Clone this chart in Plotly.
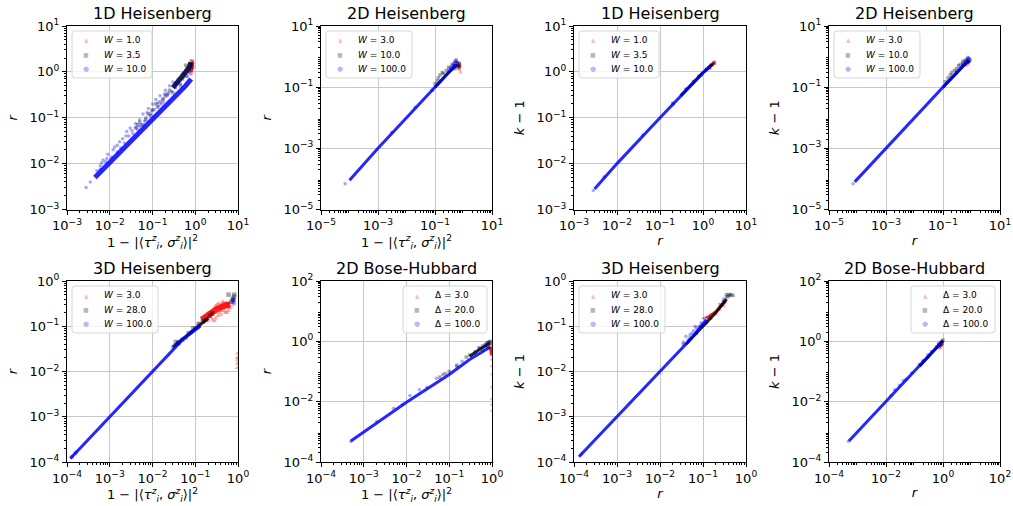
import plotly.graph_objects as go

W_PX, H_PX = 1013, 506

# ---------------- titles, labels, axis decades ----------------
TITLES = ["1D Heisenberg", "2D Heisenberg", "1D Heisenberg", "2D Heisenberg",
          "3D Heisenberg", "2D Bose-Hubbard", "3D Heisenberg", "2D Bose-Hubbard"]
LABELS_1D = ["<i>W</i> = 1.0", "<i>W</i> = 3.5", "<i>W</i> = 10.0"]
LABELS_2D = ["<i>W</i> = 3.0", "<i>W</i> = 10.0", "<i>W</i> = 100.0"]
LABELS_3D = ["<i>W</i> = 3.0", "<i>W</i> = 28.0", "<i>W</i> = 100.0"]
LABELS_BH = ["Δ = 3.0", "Δ = 20.0", "Δ = 100.0"]
LEGEND_LABELS = [LABELS_1D, LABELS_2D, LABELS_1D, LABELS_2D,
                 LABELS_3D, LABELS_BH, LABELS_3D, LABELS_BH]
XLABEL_FID = "1 − |⟨<i>τ</i><sup><i>z</i></sup><sub><i>i</i></sub>, <i>σ</i><sup><i>z</i></sup><sub><i>i</i></sub>⟩|<sup>2</sup>"
XLABELS = [XLABEL_FID, XLABEL_FID, "<i>r</i>", "<i>r</i>",
           XLABEL_FID, XLABEL_FID, "<i>r</i>", "<i>r</i>"]
YLABELS = ["<i>r</i>", "<i>r</i>", "<i>k</i> − 1", "<i>k</i> − 1",
           "<i>r</i>", "<i>r</i>", "<i>k</i> − 1", "<i>k</i> − 1"]
X_TICK_EXP = [[-3, -2, -1, 0, 1], [-5, -3, -1, 1], [-3, -2, -1, 0, 1], [-5, -3, -1, 1],
              [-4, -3, -2, -1, 0], [-4, -3, -2, -1, 0], [-4, -3, -2, -1, 0], [-4, -2, 0, 2]]
Y_TICK_EXP = [[-3, -2, -1, 0, 1], [-5, -3, -1, 1], [-3, -2, -1, 0, 1], [-5, -3, -1, 1],
              [-4, -3, -2, -1, 0], [-4, -2, 0, 2], [-4, -3, -2, -1, 0], [-4, -2, 0, 2]]

# ---------------- data ----------------
# Panel 1: 1D Heisenberg, r vs 1-|<tau,sigma>|^2
p1_red_core = [(0.80, 1.0), (0.85, 1.3), (0.88, 1.6)]
p1_red_pts = [(0.70, 0.9), (0.75, 1.1), (0.80, 1.3), (0.82, 1.5), (0.85, 1.7), (0.88, 1.2),
              (0.90, 1.4), (0.78, 1.8), (0.86, 1.0), (0.90, 1.6), (0.92, 1.3)]
p1_black_core = [(0.30, 0.45), (0.50, 0.8), (0.70, 1.2), (0.80, 1.6)]
p1_black_pts = [(0.04, 0.06), (0.05, 0.08), (0.06, 0.07), (0.08, 0.12), (0.10, 0.15), (0.12, 0.2),
                (0.15, 0.22), (0.20, 0.3), (0.25, 0.4), (0.30, 0.35), (0.35, 0.55), (0.40, 0.6),
                (0.45, 0.5), (0.50, 0.7), (0.55, 0.9), (0.60, 0.8), (0.65, 1.2), (0.70, 1.0),
                (0.75, 1.5), (0.80, 1.3), (0.85, 1.7), (0.60, 1.4), (0.07, 0.09), (0.18, 0.26),
                (0.045, 0.07), (0.09, 0.11), (0.13, 0.17), (0.22, 0.33)]
p1_blue_core = [(0.0045, 0.005), (0.01, 0.0105), (0.03, 0.03), (0.1, 0.09), (0.3, 0.25),
                (0.6, 0.5), (0.8, 0.7)]
p1_blue_pts = [(0.0028, 0.003), (0.0035, 0.004), (0.006, 0.009), (0.007, 0.012), (0.009, 0.016),
               (0.012, 0.02), (0.015, 0.025), (0.02, 0.035), (0.025, 0.05), (0.03, 0.06),
               (0.04, 0.075), (0.05, 0.09), (0.06, 0.12), (0.08, 0.16), (0.10, 0.2),
               (0.12, 0.25), (0.15, 0.3), (0.20, 0.4), (0.25, 0.5), (0.30, 0.6), (0.40, 0.7),
               (0.50, 0.9), (0.60, 1.1), (0.70, 1.3), (0.008, 0.011), (0.015, 0.018),
               (0.045, 0.055), (0.07, 0.1), (0.18, 0.22), (0.35, 0.45), (0.005, 0.007),
               (0.011, 0.014), (0.022, 0.028), (0.035, 0.045), (0.055, 0.07), (0.09, 0.12),
               (0.14, 0.18), (0.22, 0.3), (0.45, 0.55), (0.65, 0.8), (0.80, 0.9), (0.85, 1.2),
               (0.75, 1.0), (0.80, 1.4), (0.006, 0.0075), (0.018, 0.022), (0.028, 0.04),
               (0.05, 0.065), (0.11, 0.15), (0.17, 0.25), (0.28, 0.38), (0.38, 0.55),
               (0.0065, 0.0105), (0.0085, 0.013), (0.013, 0.023), (0.017, 0.03), (0.024, 0.04),
               (0.033, 0.052), (0.042, 0.062), (0.065, 0.085), (0.075, 0.13), (0.095, 0.14),
               (0.13, 0.21), (0.16, 0.2), (0.19, 0.33), (0.24, 0.34), (0.33, 0.5),
               (0.42, 0.62), (0.52, 0.75), (0.58, 0.95)]

# Panel 2: 2D Heisenberg, r vs 1-|<tau,sigma>|^2
p2_red_core = [(0.65, 0.5), (0.75, 0.45)]
p2_red_pts = [(0.55, 0.45), (0.60, 0.5), (0.65, 0.55), (0.70, 0.5), (0.70, 0.6), (0.72, 0.4),
              (0.75, 0.35), (0.75, 0.45), (0.78, 0.3), (0.80, 0.5), (0.65, 0.4), (0.60, 0.65)]
p2_black_core = [(0.1, 0.1), (0.3, 0.3), (0.6, 0.55)]
p2_black_pts = [(0.08, 0.08), (0.10, 0.13), (0.12, 0.16), (0.13, 0.2), (0.15, 0.25), (0.18, 0.3),
                (0.20, 0.28), (0.25, 0.35), (0.30, 0.45), (0.35, 0.4), (0.40, 0.55), (0.45, 0.5),
                (0.50, 0.6), (0.55, 0.7), (0.60, 0.6), (0.65, 0.5), (0.70, 0.55), (0.70, 0.45),
                (0.72, 0.6), (0.50, 0.4)]
p2_blue_core = [(1e-4, 9e-5), (1e-3, 1e-3), (0.01, 0.01), (0.1, 0.1), (0.3, 0.3), (0.55, 0.55)]
p2_blue_pts = [(7e-5, 7e-5), (0.35, 0.45), (0.40, 0.5), (0.45, 0.6), (0.50, 0.7), (0.55, 0.8),
               (0.60, 0.65), (0.50, 0.45), (0.60, 0.5), (0.30, 0.35), (0.02, 0.022), (0.003, 0.0033)]

# Panel 3: 1D Heisenberg, k-1 vs r
p3_red_core = [(1.3, 1.2), (1.85, 1.6)]
p3_red_pts = [(1.2, 1.1), (1.4, 1.3), (1.5, 1.2), (1.6, 1.45), (1.7, 1.5), (1.8, 1.6),
              (1.9, 1.65), (1.6, 1.35), (1.85, 1.5)]
p3_black_core = [(0.3, 0.3), (1.0, 0.97), (1.7, 1.5)]
p3_black_pts = [(0.2, 0.2), (0.4, 0.42), (0.6, 0.62), (0.8, 0.8), (1.2, 1.15), (1.5, 1.4),
                (1.8, 1.6), (1.4, 1.2), (0.9, 0.85)]
p3_blue_core = [(0.003, 0.0028), (0.01, 0.01), (0.1, 0.1), (0.5, 0.5), (1.0, 0.95), (1.5, 1.35)]
p3_blue_pts = [(0.0028, 0.0026), (0.04, 0.042), (0.2, 0.21), (0.005, 0.0052), (0.8, 0.78),
               (1.2, 1.1)]

# Panel 4: 2D Heisenberg, k-1 vs r
p4_red_core = [(0.7, 0.6), (0.85, 0.75)]
p4_red_pts = [(0.60, 0.55), (0.70, 0.6), (0.75, 0.55), (0.80, 0.65), (0.85, 0.75), (0.70, 0.7),
              (0.65, 0.5)]
p4_black_core = [(0.1, 0.1), (0.4, 0.4), (0.8, 0.75)]
p4_black_pts = [(0.12, 0.15), (0.15, 0.2), (0.18, 0.25), (0.20, 0.3), (0.25, 0.35), (0.30, 0.4),
                (0.35, 0.5), (0.40, 0.55), (0.50, 0.6), (0.50, 0.7), (0.60, 0.75), (0.70, 0.8),
                (0.75, 0.65), (0.85, 0.7), (0.30, 0.3)]
p4_blue_core = [(8e-5, 8e-5), (1e-3, 1e-3), (0.01, 0.01), (0.1, 0.1), (0.4, 0.4), (0.8, 0.8)]
p4_blue_pts = [(7e-5, 7e-5), (0.50, 0.55), (0.60, 0.7), (0.70, 0.85), (0.75, 0.95), (0.80, 0.9),
               (0.85, 0.85), (0.90, 0.8), (0.65, 0.6)]

# Panel 5: 3D Heisenberg, r vs 1-|<tau,sigma>|^2
p5_red_core = [(0.14, 0.14), (0.3, 0.23), (0.5, 0.29), (0.65, 0.3)]
p5_red_pts = [(0.12, 0.12), (0.15, 0.14), (0.18, 0.17), (0.20, 0.2), (0.20, 0.15), (0.25, 0.22),
              (0.25, 0.18), (0.28, 0.25), (0.30, 0.2), (0.30, 0.28), (0.33, 0.3), (0.35, 0.25),
              (0.35, 0.32), (0.40, 0.3), (0.40, 0.22), (0.45, 0.28), (0.45, 0.33), (0.50, 0.3),
              (0.50, 0.25), (0.55, 0.28), (0.55, 0.33), (0.60, 0.3), (0.60, 0.22), (0.65, 0.25),
              (0.30, 0.15), (0.25, 0.14), (0.40, 0.18), (0.50, 0.2), (0.22, 0.2), (0.38, 0.27),
              (0.16, 0.12), (0.19, 0.13), (0.23, 0.16), (0.27, 0.2), (0.32, 0.26), (0.36, 0.2),
              (0.42, 0.25), (0.47, 0.22), (0.52, 0.33), (0.58, 0.26), (0.62, 0.33), (0.68, 0.28),
              (0.34, 0.17), (0.44, 0.35), (0.28, 0.13), (0.55, 0.2),
              (0.95, 0.02), (0.97, 0.015), (0.98, 0.025), (0.96, 0.012), (0.99, 0.018)]
p5_black_core = [(0.03, 0.035), (0.1, 0.09), (0.2, 0.15)]
p5_black_pts = [(0.035, 0.045), (0.04, 0.042), (0.05, 0.05), (0.07, 0.07), (0.09, 0.09),
                (0.12, 0.11), (0.15, 0.13), (0.18, 0.14), (0.22, 0.17), (0.25, 0.19),
                (0.75, 0.4), (0.80, 0.45), (0.82, 0.5), (0.78, 0.38), (0.60, 0.5), (0.70, 0.35)]
p5_blue_core = [(1.2e-4, 1.2e-4), (1e-3, 1e-3), (0.01, 0.01), (0.05, 0.05), (0.13, 0.1)]
p5_blue_pts = [(1.3e-4, 1.3e-4), (1.6e-4, 1.6e-4), (0.03, 0.035), (0.04, 0.045), (0.06, 0.055),
               (0.08, 0.075), (0.10, 0.09), (0.12, 0.1), (0.75, 0.35), (0.78, 0.38), (0.80, 0.32)]

# Panel 6: 2D Bose-Hubbard, r vs 1-|<tau,sigma>|^2
p6_red_core = [(0.93, 0.65), (0.97, 0.35)]
p6_red_pts = [(0.90, 0.6), (0.92, 0.5), (0.95, 0.45), (0.95, 0.7), (0.97, 0.35), (0.97, 0.55),
              (0.98, 0.25), (0.98, 0.15), (0.99, 0.08), (0.99, 0.03), (0.985, 0.012),
              (0.99, 0.008), (0.995, 0.005), (0.97, 0.8), (0.93, 0.65)]
p6_black_core = [(0.3, 0.32), (0.6, 0.62), (0.9, 0.85)]
p6_black_pts = [(0.06, 0.065), (0.08, 0.085), (0.10, 0.1), (0.15, 0.16), (0.25, 0.3), (0.30, 0.35),
                (0.40, 0.45), (0.50, 0.6), (0.60, 0.7), (0.70, 0.75), (0.75, 0.85), (0.80, 0.9),
                (0.85, 0.95), (0.90, 1.0), (0.95, 0.9), (0.60, 0.5), (0.80, 0.6)]
p6_blue_core = [(5e-4, 5e-4), (1e-3, 1e-3), (0.01, 0.0095), (0.1, 0.08), (0.3, 0.25),
                (0.6, 0.45), (0.9, 0.65)]
p6_blue_pts = [(5e-4, 4.8e-4), (0.012, 0.016), (0.02, 0.025), (0.03, 0.03), (0.05, 0.06),
               (0.07, 0.08), (0.15, 0.15), (0.20, 0.22), (0.40, 0.4), (0.50, 0.6), (0.005, 0.006),
               (0.008, 0.008), (0.002, 0.0022), (0.70, 0.8), (0.80, 0.9)]

# Panel 7: 3D Heisenberg, k-1 vs r
p7_red_core = [(0.12, 0.15), (0.2, 0.21), (0.34, 0.36)]
p7_red_pts = [(0.10, 0.15), (0.12, 0.16), (0.15, 0.18), (0.18, 0.2), (0.20, 0.22), (0.22, 0.25),
              (0.25, 0.27), (0.28, 0.3), (0.30, 0.33), (0.33, 0.36), (0.35, 0.38), (0.30, 0.28),
              (0.25, 0.23), (0.20, 0.18)]
p7_black_core = [(0.04, 0.04), (0.1, 0.1), (0.2, 0.2), (0.35, 0.4)]
p7_black_pts = [(0.035, 0.04), (0.05, 0.055), (0.07, 0.07), (0.09, 0.1), (0.12, 0.12),
                (0.15, 0.15), (0.25, 0.3), (0.30, 0.35), (0.38, 0.45), (0.40, 0.5),
                (0.42, 0.48), (0.45, 0.5), (0.50, 0.48), (0.35, 0.5)]
p7_blue_core = [(1.3e-4, 1.3e-4), (1e-3, 1e-3), (0.01, 0.01), (0.05, 0.05), (0.12, 0.14)]
p7_blue_pts = [(1.5e-4, 1.5e-4), (0.035, 0.045), (0.04, 0.06), (0.045, 0.05), (0.05, 0.065),
               (0.06, 0.08), (0.07, 0.09), (0.08, 0.1), (0.09, 0.12), (0.10, 0.11), (0.11, 0.15),
               (0.065, 0.1), (0.055, 0.07), (0.30, 0.4), (0.35, 0.45)]

# Panel 8: 2D Bose-Hubbard, k-1 vs r
p8_red_core = [(0.75, 0.65), (0.9, 0.8)]
p8_red_pts = [(0.70, 0.6), (0.75, 0.65), (0.80, 0.7), (0.85, 0.75), (0.90, 0.8), (0.80, 0.6)]
p8_black_core = [(0.15, 0.15), (0.5, 0.5), (1.0, 1.05)]
p8_black_pts = [(0.15, 0.17), (0.20, 0.22), (0.30, 0.35), (0.40, 0.45), (0.60, 0.65), (0.70, 0.8),
                (0.80, 0.9), (0.90, 1.0), (1.00, 1.1), (0.95, 0.85), (0.85, 0.75)]
p8_blue_core = [(5e-4, 5e-4), (1e-3, 1e-3), (0.01, 0.01), (0.1, 0.1), (0.5, 0.5), (0.9, 0.95)]
p8_blue_pts = [(4.8e-4, 4.9e-4), (0.02, 0.025), (0.03, 0.035), (0.05, 0.055), (0.04, 0.05),
               (0.015, 0.016), (0.08, 0.09), (0.20, 0.22), (0.30, 0.3), (0.70, 0.8)]

PANEL_SERIES = [
    [(p1_red_core, p1_red_pts), (p1_black_core, p1_black_pts), (p1_blue_core, p1_blue_pts)],
    [(p2_red_core, p2_red_pts), (p2_black_core, p2_black_pts), (p2_blue_core, p2_blue_pts)],
    [(p3_red_core, p3_red_pts), (p3_black_core, p3_black_pts), (p3_blue_core, p3_blue_pts)],
    [(p4_red_core, p4_red_pts), (p4_black_core, p4_black_pts), (p4_blue_core, p4_blue_pts)],
    [(p5_red_core, p5_red_pts), (p5_black_core, p5_black_pts), (p5_blue_core, p5_blue_pts)],
    [(p6_red_core, p6_red_pts), (p6_black_core, p6_black_pts), (p6_blue_core, p6_blue_pts)],
    [(p7_red_core, p7_red_pts), (p7_black_core, p7_black_pts), (p7_blue_core, p7_blue_pts)],
    [(p8_red_core, p8_red_pts), (p8_black_core, p8_black_pts), (p8_blue_core, p8_blue_pts)],
]

# ---------------- styling / geometry ----------------
COL_PX = [(67, 238), (321, 492), (574, 746), (829, 1000)]
ROW_PX = [(26, 209.5), (281, 462)]
RGB = ["255,0,0", "0,0,0", "0,0,255"]
SYMBOLS = ["triangle-up", "square", "circle"]
GLYPHS = ["▲", "■", "●"]
GLYPH_SIZE = [6, 6, 7]
CORE_WIDTH = [5, 3, 3, 3, 3, 3, 3, 3]
RED_CORE_WIDTH = [3, 3, 3, 3, 6, 3, 3, 3]
MARKER_SIZE = [3.5, 3.5, 3.5, 3.5, 4.5, 3.5, 3.5, 3.5]
LEGEND_RIGHT = [False, False, False, False, False, True, False, True]
LEGEND_W = [80, 86, 80, 86, 86, 84, 86, 84]
LEGEND_H = 47
FONT = "DejaVu Sans"


def sup(e):
    return "10<sup>" + ("−" if e < 0 else "") + str(abs(e)) + "</sup>"


def rounded_rect(x0, y0, x1, y1, rad=3):
    # pixel coordinates (y down) -> paper path
    def P(x, y):
        return f"{x / W_PX:.5f},{1 - y / H_PX:.5f}"
    return (f"M {P(x0 + rad, y0)} L {P(x1 - rad, y0)} Q {P(x1, y0)} {P(x1, y0 + rad)} "
            f"L {P(x1, y1 - rad)} Q {P(x1, y1)} {P(x1 - rad, y1)} "
            f"L {P(x0 + rad, y1)} Q {P(x0, y1)} {P(x0, y1 - rad)} "
            f"L {P(x0, y0 + rad)} Q {P(x0, y0)} {P(x0 + rad, y0)} Z")


fig = go.Figure()
layout = {}
annotations = []
shapes = []
for i in range(8):
    r, c = divmod(i, 4)
    x0, x1 = COL_PX[c]
    t, b = ROW_PX[r]
    xd = [x0 / W_PX, x1 / W_PX]
    yd = [1 - b / H_PX, 1 - t / H_PX]
    s = "" if i == 0 else str(i + 1)

    for k, (core, pts) in enumerate(PANEL_SERIES[i]):
        width = RED_CORE_WIDTH[i] if k == 0 else CORE_WIDTH[i]
        fig.add_trace(go.Scatter(
            x=[p[0] for p in core], y=[p[1] for p in core], mode="lines",
            line=dict(color=f"rgba({RGB[k]},0.85)", width=width),
            showlegend=False, hoverinfo="skip", xaxis="x" + s, yaxis="y" + s))
        fig.add_trace(go.Scatter(
            x=[p[0] for p in pts], y=[p[1] for p in pts], mode="markers",
            name=LEGEND_LABELS[i][k],
            marker=dict(symbol=SYMBOLS[k], size=MARKER_SIZE[i], color=f"rgba({RGB[k]},0.35)",
                        line=dict(width=0)),
            showlegend=False, xaxis="x" + s, yaxis="y" + s))

    xe, ye = X_TICK_EXP[i], Y_TICK_EXP[i]

    def axis(dom, exps, title, anchor, standoff):
        lo, hi = exps[0], exps[-1]
        minor_vals = [m * 10 ** e for e in range(lo, hi) for m in range(2, 10)]
        return dict(
            type="log", domain=dom, range=[lo, hi], anchor=anchor,
            tickmode="array", tickvals=[10 ** e for e in exps],
            ticktext=[sup(e) for e in exps],
            ticks="outside", ticklen=4, tickwidth=1, tickcolor="black",
            showline=True, linecolor="black", linewidth=1, mirror=True,
            showgrid=True, gridcolor="#c8c8c8", gridwidth=1, zeroline=False,
            tickfont=dict(family=FONT, size=13, color="black"),
            title=dict(text=title, font=dict(family=FONT, size=13, color="black"),
                       standoff=standoff),
            minor=dict(tickmode="array", tickvals=minor_vals, ticks="outside",
                       ticklen=2, tickwidth=0.8, tickcolor="black", showgrid=False),
            automargin=False,
        )

    layout["xaxis" + s] = axis(xd, xe, XLABELS[i], "y" + s, 3)
    layout["yaxis" + s] = axis(yd, ye, YLABELS[i], "x" + s, 8)

    # legend box drawn as a shape + text annotations
    if LEGEND_RIGHT[i]:
        bx1 = x1 - 5
        bx0 = bx1 - LEGEND_W[i]
    else:
        bx0 = x0 + 5
        bx1 = bx0 + LEGEND_W[i]
    by0 = t + 5
    by1 = by0 + LEGEND_H
    shapes.append(dict(type="path", path=rounded_rect(bx0, by0, bx1, by1), xref="paper",
                       yref="paper", fillcolor="rgba(255,255,255,0.8)",
                       line=dict(color="#d6d6d6", width=1), layer="above"))
    for k in range(3):
        cy = by0 + 9 + k * 14.5
        annotations.append(dict(
            text=GLYPHS[k], x=(bx0 + 14) / W_PX, y=1 - cy / H_PX, xref="paper", yref="paper",
            xanchor="center", yanchor="middle", showarrow=False,
            font=dict(family=FONT, size=GLYPH_SIZE[k], color=f"rgba({RGB[k]},0.3)")))
        annotations.append(dict(
            text=LEGEND_LABELS[i][k], x=(bx0 + 30) / W_PX, y=1 - cy / H_PX, xref="paper",
            yref="paper", xanchor="left", yanchor="middle", showarrow=False,
            font=dict(family=FONT, size=9, color="black")))

    annotations.append(dict(
        text=TITLES[i], x=(x0 + x1) / 2 / W_PX, y=1 - t / H_PX, xref="paper", yref="paper",
        xanchor="center", yanchor="bottom", yshift=1, showarrow=False,
        font=dict(family=FONT, size=16, color="black")))

fig.update_layout(
    width=W_PX, height=H_PX, margin=dict(l=0, r=0, t=0, b=0),
    paper_bgcolor="white", plot_bgcolor="white", showlegend=False,
    font=dict(family=FONT, color="black"),
    annotations=annotations, shapes=shapes, **layout)

fig.write_html("out.html")
